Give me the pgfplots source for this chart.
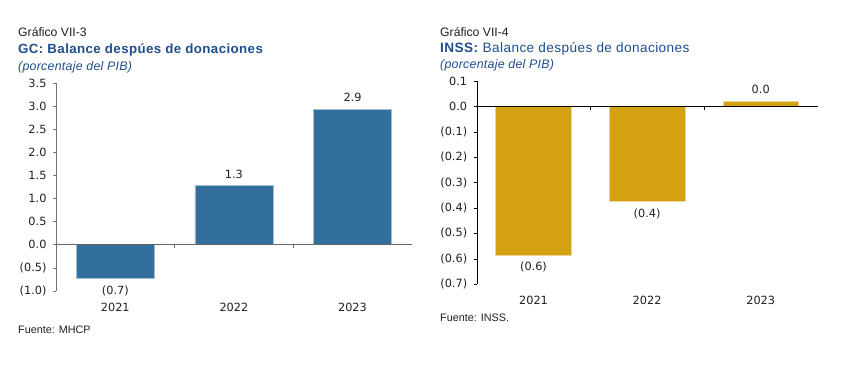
\documentclass[border=0pt]{standalone}
\usepackage{pgfplots}
\pgfplotsset{compat=1.18}
\usepackage{fontspec}
\setmainfont{Liberation Sans}
\newfontfamily\dejavu{DejaVu Sans}
\definecolor{gcblue}{RGB}{51,111,156}
\definecolor{inssgold}{RGB}{212,162,17}
\definecolor{titleblue}{RGB}{31,78,140}
\definecolor{txt}{RGB}{30,30,40}
\begin{document}
\begin{tikzpicture}
\path (0pt,0pt) rectangle (843pt,371pt);
% ---------- titles left
\node[anchor=west,inner sep=0pt,text=txt,font=\fontsize{12.2}{14}\selectfont] at (18pt,338.5pt) {Gráfico VII-3};
\node[anchor=west,inner sep=0pt,text=titleblue,font=\fontsize{13.3}{15}\selectfont\bfseries\addfontfeature{LetterSpace=3}] at (18pt,321pt) {GC: Balance despúes de donaciones};
\node[anchor=west,inner sep=0pt,text=titleblue,font=\fontsize{12.4}{14}\selectfont\itshape\addfontfeature{LetterSpace=2}] at (18pt,303.5pt) {(porcentaje del PIB)};
\node[anchor=west,inner sep=0pt,text=txt,font=\fontsize{10.8}{13}\selectfont] at (18pt,41pt) {Fuente: MHCP};
% ---------- titles right
\node[anchor=west,inner sep=0pt,text=txt,font=\fontsize{12.2}{14}\selectfont] at (440pt,338.5pt) {Gráfico VII-4};
\node[anchor=west,inner sep=0pt,text=titleblue,font=\fontsize{13.6}{15}\selectfont\addfontfeature{LetterSpace=3}] at (440pt,322.5pt) {\textbf{INSS:} Balance despúes de donaciones};
\node[anchor=west,inner sep=0pt,text=titleblue,font=\fontsize{12.4}{14}\selectfont\itshape\addfontfeature{LetterSpace=2}] at (440pt,305.5pt) {(porcentaje del PIB)};
\node[anchor=west,inner sep=0pt,text=txt,font=\fontsize{10.8}{13}\selectfont] at (440pt,53pt) {Fuente: INSS.};

\pgfplotsset{
  mychart/.style={
    scale only axis, anchor=south west, clip=false,
    xmin=-0.5, xmax=2.5,
    axis y line*=left,
    axis x line*=bottom,
    x axis line style={draw=none},
    xtick={0,1,2}, xticklabels={2021,2022,2023},
    major x tick style={draw=none},
    tick align=outside, major tick length=3pt,
    ticklabel style={font=\dejavu\fontsize{11.3}{13}\selectfont, text=txt},
    xticklabel style={yshift=-6pt},
    yticklabel style={xshift=-3pt},
    nodes near coords,
    point meta=explicit symbolic,
    every node near coord/.append style={font=\dejavu\fontsize{11.3}{13}\selectfont, text=txt, inner ysep=7pt},
  },
  pos/.style={every node near coord/.append style={anchor=south}},
  neg/.style={every node near coord/.append style={anchor=north}},
}
% ---------- left chart
\begin{axis}[mychart,
  at={(56pt,80.3pt)}, width=355.8pt, height=207.7pt,
  ymin=-1, ymax=3.5,
  ytick={-1,-0.5,0,0.5,1,1.5,2,2.5,3,3.5},
  yticklabels={(1.0),(0.5),0.0,0.5,1.0,1.5,2.0,2.5,3.0,3.5},
  y axis line style={draw=black!55},
  major y tick style={draw=black!55},
]
\addplot[ybar, bar shift=0pt, bar width=78pt, fill=gcblue, draw=gcblue!45!white, line width=0.6pt, neg]
  coordinates {(0,-0.74) [(0.7)]};
\addplot[ybar, bar shift=0pt, bar width=78pt, fill=gcblue, draw=gcblue!45!white, line width=0.6pt, pos]
  coordinates {(1,1.28) [1.3] (2,2.93) [2.9]};
\draw[black!60] (axis cs:-0.5,0) -- (axis cs:2.5,0);
\draw[black!60] (axis cs:0.5,0) -- ([yshift=-3.5pt]axis cs:0.5,0);
\draw[black!60] (axis cs:1.5,0) -- ([yshift=-3.5pt]axis cs:1.5,0);
\end{axis}
% ---------- right chart
\begin{axis}[mychart,
  at={(476.7pt,87pt)}, width=340.8pt, height=203pt,
  ymin=-0.7, ymax=0.1,
  ytick={-0.7,-0.6,-0.5,-0.4,-0.3,-0.2,-0.1,0,0.1},
  yticklabels={(0.7),(0.6),(0.5),(0.4),(0.3),(0.2),(0.1),0.0,0.1},
  y axis line style={draw=black},
  major y tick style={draw=black},
]
\addplot[ybar, bar shift=0pt, bar width=75.7pt, fill=inssgold, draw=inssgold!45!white, line width=0.6pt, neg]
  coordinates {(0,-0.585) [(0.6)] (1,-0.375) [(0.4)]};
\addplot[ybar, bar shift=0pt, bar width=75.7pt, fill=inssgold, draw=inssgold!45!white, line width=0.6pt, pos]
  coordinates {(2,0.02) [0.0]};
\draw[black] (axis cs:-0.5,0) -- (axis cs:2.5,0);
\draw[black] (axis cs:0.5,0) -- ([yshift=-4pt]axis cs:0.5,0);
\draw[black] (axis cs:1.5,0) -- ([yshift=-4pt]axis cs:1.5,0);
\end{axis}
\end{tikzpicture}
\end{document}
